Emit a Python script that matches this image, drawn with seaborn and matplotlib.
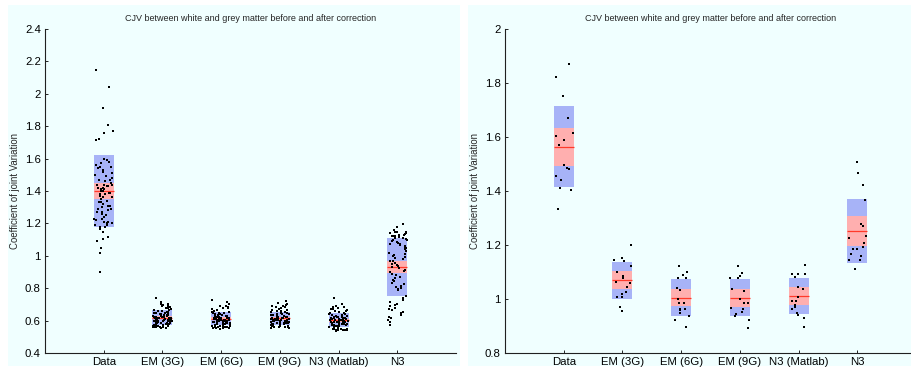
import numpy as np
import pandas as pd
import matplotlib
matplotlib.use("Agg")
import matplotlib.pyplot as plt
import seaborn as sns
from matplotlib.patches import Rectangle
from matplotlib.ticker import FuncFormatter

# ---------------- data ----------------
categories = ["Data", "EM (3G)", "EM (6G)", "EM (9G)", "N3 (Matlab)", "N3"]
title_text = "CJV between white and grey matter before and after correction"
ylabel_text = "Coefficient of joint Variation"

# left chart (large group)
left_data = [
    2.15, 2.045, 1.91, 1.81, 1.77, 1.757, 1.76, 1.713, 1.721,
    1.60, 1.59, 1.58, 1.57, 1.56, 1.55, 1.55, 1.54, 1.52, 1.51, 1.50, 1.49, 1.48, 1.47, 1.46,
    1.45, 1.44, 1.44, 1.43, 1.43, 1.42, 1.42, 1.41, 1.41, 1.40, 1.40, 1.39, 1.39, 1.38, 1.38,
    1.37, 1.36, 1.35, 1.34, 1.33, 1.32, 1.31, 1.30, 1.29, 1.29, 1.28, 1.27, 1.26, 1.25, 1.24,
    1.23, 1.23, 1.22, 1.21, 1.21, 1.20, 1.20, 1.19, 1.19, 1.18, 1.18,
    1.33, 1.36, 1.44, 1.47, 1.53, 1.31, 1.27,
    1.167, 1.147, 1.114, 1.106, 1.093, 1.050, 1.017, 0.902,
]
left_em3 = [
    0.738, 0.712, 0.705, 0.702, 0.698, 0.695, 0.690, 0.688, 0.684, 0.680, 0.676, 0.672, 0.668, 0.665, 0.662,
    0.658, 0.655, 0.652, 0.650, 0.648, 0.645, 0.643, 0.640, 0.638, 0.636, 0.634, 0.632, 0.630, 0.628,
    0.626, 0.625, 0.623, 0.621, 0.620, 0.618, 0.616, 0.615, 0.613, 0.611, 0.610, 0.608, 0.606, 0.605,
    0.603, 0.601, 0.600, 0.598, 0.596, 0.595, 0.593, 0.591, 0.590, 0.588, 0.586, 0.585, 0.583, 0.581,
    0.580, 0.578, 0.576, 0.575, 0.573, 0.571,
    0.569, 0.567, 0.566, 0.564, 0.563, 0.562, 0.560, 0.559, 0.558, 0.557, 0.556,
    0.620, 0.615, 0.625, 0.605, 0.600, 0.595,
]
left_em6 = [
    0.728, 0.714, 0.700, 0.693, 0.688, 0.684, 0.680, 0.676, 0.671, 0.667, 0.663, 0.659,
    0.656, 0.653, 0.650, 0.648, 0.645, 0.642, 0.640, 0.637, 0.635, 0.632, 0.630, 0.628, 0.625, 0.623,
    0.621, 0.619, 0.617, 0.615, 0.613, 0.611, 0.609, 0.607, 0.605, 0.603, 0.601, 0.599, 0.597, 0.595,
    0.593, 0.591, 0.589, 0.587, 0.585, 0.583, 0.581, 0.579, 0.577, 0.575, 0.573, 0.571, 0.569,
    0.567, 0.566, 0.564, 0.563, 0.561, 0.560, 0.559, 0.558, 0.557, 0.556, 0.554, 0.552, 0.550,
    0.612, 0.608, 0.604, 0.600, 0.596, 0.620, 0.626, 0.590, 0.586, 0.582, 0.578, 0.616, 0.602, 0.594,
]
left_em9 = [
    0.720, 0.710, 0.702, 0.696, 0.690, 0.688, 0.685, 0.681, 0.677, 0.672, 0.668, 0.664,
    0.660, 0.657, 0.654, 0.651, 0.648, 0.646, 0.643, 0.640, 0.638, 0.635, 0.633, 0.630, 0.628, 0.626,
    0.624, 0.622, 0.620, 0.618, 0.616, 0.614, 0.612, 0.610, 0.608, 0.606, 0.604, 0.602, 0.600, 0.598,
    0.596, 0.594, 0.592, 0.590, 0.588, 0.586, 0.584, 0.582, 0.580, 0.578, 0.576, 0.574,
    0.572, 0.570, 0.568, 0.567, 0.565, 0.564, 0.562, 0.561, 0.559, 0.558, 0.556, 0.555,
    0.609, 0.605, 0.601, 0.597, 0.593, 0.617, 0.621, 0.625, 0.589, 0.585, 0.581, 0.613, 0.603, 0.599,
    0.587, 0.583,
]
left_n3m = [
    0.742, 0.700, 0.690, 0.686, 0.682, 0.678, 0.674, 0.670, 0.666, 0.662, 0.658, 0.654, 0.650, 0.647,
    0.644, 0.641, 0.638, 0.635, 0.632, 0.629, 0.626, 0.623, 0.620, 0.618, 0.616, 0.614, 0.612, 0.610,
    0.608, 0.606, 0.604, 0.602, 0.600, 0.598, 0.596, 0.594, 0.592, 0.590, 0.588, 0.586, 0.584, 0.582,
    0.580, 0.578, 0.576, 0.574, 0.572, 0.570, 0.568, 0.566, 0.564, 0.562, 0.560, 0.558, 0.556, 0.554,
    0.552, 0.550, 0.549, 0.548, 0.547, 0.546, 0.545, 0.544, 0.543, 0.541, 0.539, 0.537,
    0.600, 0.605, 0.595, 0.610, 0.590, 0.585, 0.615, 0.580, 0.575, 0.620, 0.625, 0.570,
]
left_n3 = [
    1.195, 1.175, 1.160, 1.150, 1.145, 1.140, 1.135, 1.130, 1.125, 1.120, 1.115, 1.110, 1.105, 1.100,
    1.095, 1.090, 1.085, 1.080, 1.075, 1.070, 1.065, 1.060, 1.055, 1.050, 1.040, 1.030, 1.020, 1.010,
    1.000, 1.005, 1.150, 1.140, 1.130, 1.120, 1.110,
    0.990, 0.980, 0.970, 0.965, 0.955, 0.950, 0.940, 0.930, 0.925, 0.915, 0.905, 0.900, 0.890, 0.880,
    0.870, 0.860, 0.850, 0.845, 0.835, 0.825, 0.815, 0.810, 0.800, 0.795, 0.790, 0.985, 0.945,
    0.750, 0.740, 0.725, 0.715, 0.705, 0.695, 0.690, 0.680, 0.670, 0.665, 0.655, 0.645, 0.635, 0.625,
    0.615, 0.605, 0.590, 0.575,
]

# right chart (small group)
right_data = [1.821, 1.869, 1.753, 1.670, 1.614, 1.590, 1.590, 1.603, 1.570, 1.497, 1.485,
              1.481, 1.442, 1.456, 1.410, 1.405, 1.332]
right_em3 = [1.152, 1.199, 1.146, 1.142, 1.124, 1.101, 1.085, 1.060, 1.064, 1.078, 1.046,
             1.027, 1.019, 1.006, 1.006, 0.970, 0.956]
right_em6 = [1.121, 1.099, 1.079, 1.079, 1.090, 1.040, 1.033, 0.999, 0.984, 0.984, 0.958,
             0.964, 0.947, 0.937, 0.921, 0.896, 0.962]
right_em9 = [1.121, 1.095, 1.085, 1.079, 1.079, 1.038, 1.031, 0.999, 0.984, 0.984, 0.964,
             0.966, 0.946, 0.953, 0.937, 0.921, 0.893]
right_n3m = [1.126, 1.091, 1.091, 1.091, 1.083, 1.046, 1.038, 1.009, 0.993, 0.993, 0.979,
             0.970, 0.964, 0.947, 0.941, 0.931, 0.897]
right_n3 = [1.466, 1.509, 1.423, 1.366, 1.277, 1.270, 1.232, 1.225, 1.209, 1.186, 1.186,
            1.194, 1.160, 1.166, 1.146, 1.146, 1.112]

left_yticks = [0.4, 0.6, 0.8, 1.0, 1.2, 1.4, 1.6, 1.8, 2.0, 2.2, 2.4]
right_yticks = [0.8, 1.0, 1.2, 1.4, 1.6, 1.8, 2.0]

# ---------------- style ----------------
BG = "#F0FFFF"
BLUE = "#A7B3F7"
PINK = "#FFAFAF"
RED = "#FF3A2A"
W, H = 912, 368

sns.set_style("ticks")
plt.rcParams["font.family"] = ["Liberation Sans", "DejaVu Sans"]

fig = plt.figure(figsize=(W / 100, H / 100), dpi=100, facecolor="white")

# two light panels (behind the axes)
for x0, x1 in [(8, 460), (468, 912)]:
    fig.patches.append(Rectangle((x0 / W, 2 / H), (x1 - x0) / W, (363 - 2) / H,
                                 transform=fig.transFigure, facecolor=BG,
                                 edgecolor="none", zorder=-5))


def panel(rect_px, series, yticks, ylabel_x):
    x0, y0, x1, y1 = rect_px
    ax = fig.add_axes([x0 / W, (H - y1) / H, (x1 - x0) / W, (y1 - y0) / H])
    ax.set_facecolor("none")
    ax.set_zorder(2)
    df = pd.DataFrame({
        "cat": np.repeat(categories, [len(s) for s in series]),
        "val": np.concatenate([np.asarray(s, float) for s in series]),
    })
    np.random.seed(7)
    sns.stripplot(data=df, x="cat", y="val", order=categories, ax=ax, color="black",
                  size=1.5, jitter=0.16, linewidth=0, marker="s", zorder=4)
    stats = df.groupby("cat", sort=False)["val"].agg(["mean", "std", "count"]).reindex(categories)
    ci = 1.96 * stats["std"] / np.sqrt(stats["count"])
    pos = np.arange(len(categories))
    bw = 0.34
    ax.bar(pos, 2 * stats["std"], bottom=stats["mean"] - stats["std"], width=bw,
           color=BLUE, linewidth=0, zorder=1)
    ax.bar(pos, 2 * ci, bottom=stats["mean"] - ci, width=bw, color=PINK,
           linewidth=0, zorder=2)
    ax.hlines(stats["mean"], pos - bw / 2, pos + bw / 2, color=RED, lw=0.9, zorder=3)

    ax.set_xlim(-1, 6)
    ax.set_ylim(yticks[0], yticks[-1])
    ax.set_yticks(yticks)
    ax.yaxis.set_major_formatter(FuncFormatter(lambda v, p: "%g" % round(v, 3)))
    ax.set_xlabel("")
    ax.set_ylabel(ylabel_text, fontsize=6.9)
    ax.yaxis.set_label_coords(ylabel_x, 0.5)
    ax.set_title(title_text, fontsize=6.5, pad=6)
    ax.tick_params(axis="both", direction="in", length=2.5, width=0.6,
                   labelsize=8.2, pad=3, colors="black")
    for s in ["top", "right"]:
        ax.spines[s].set_visible(False)
    for s in ["left", "bottom"]:
        ax.spines[s].set_linewidth(0.8)
        ax.spines[s].set_color("#202020")
    return ax


panel((45, 29, 456, 353),
      [left_data, left_em3, left_em6, left_em9, left_n3m, left_n3],
      left_yticks, -0.062)
panel((505, 29, 916, 353),
      [right_data, right_em3, right_em6, right_em9, right_n3m, right_n3],
      right_yticks, -0.060)

fig.savefig("out.png", dpi=100, facecolor="white")
